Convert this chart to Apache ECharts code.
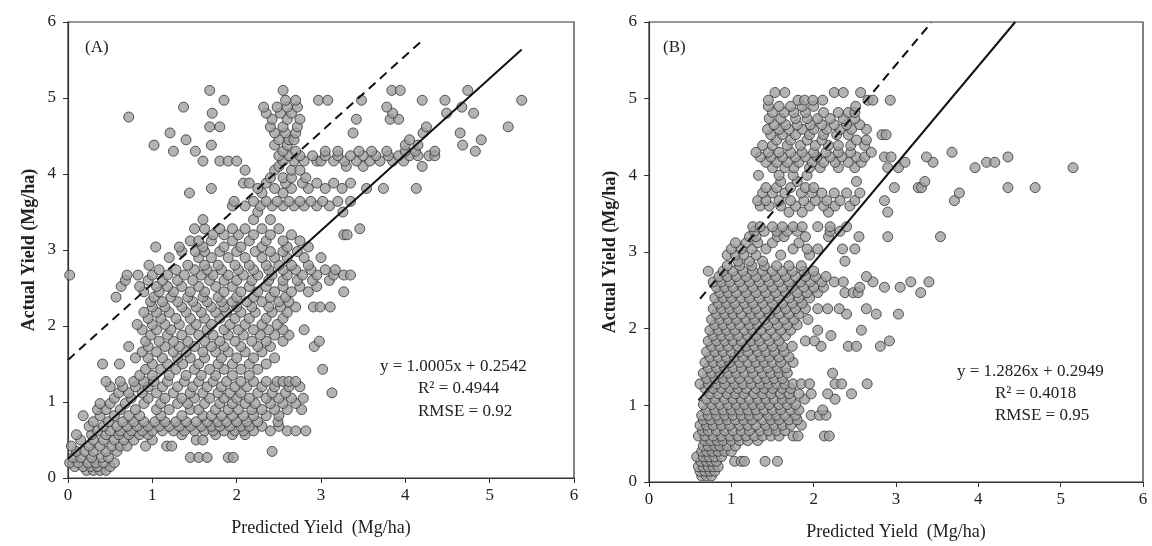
<!DOCTYPE html>
<html>
<head>
<meta charset="utf-8">
<script src="https://cdn.jsdelivr.net/npm/echarts@6/dist/echarts.min.js"></script>
<style>
html,body{margin:0;padding:0;background:#fff;}
#chart{width:1152px;height:546px;}
</style>
</head>
<body>
<div id="chart"></div>
<script>
// ---------- Panel A: actual-yield levels and predicted values in each level ----------
const actualA = [0.10,0.15,0.20,0.27,0.35,0.42,0.50,0.57,0.62,0.68,0.74,0.82,0.90,0.98,1.05,1.12,1.20,1.27,1.35,1.43,1.50,1.58,1.66,1.73,1.80,1.88,1.95,2.02,2.10,2.18,2.25,2.32,2.38,2.45,2.52,2.60,2.67,2.74,2.80,2.90,2.98,3.04,3.12,3.20,3.28,3.40,3.50,3.58,3.64,3.75,3.81,3.88,3.95,4.05,4.10,4.17,4.24,4.30,4.38,4.45,4.54,4.62,4.72,4.75,4.80,4.88,4.97,5.10];
const predictedA = [
 [0.22,0.30,0.38,0.45],
 [0.08,0.18,0.27,0.35,0.50],
 [0.02,0.12,0.24,0.33,0.42,0.55],
 [0.06,0.15,0.28,0.40,0.48,1.45,1.55,1.65,1.90,1.96],
 [0.10,0.20,0.30,0.45,0.58,2.42],
 [0.04,0.25,0.38,0.52,0.62,0.70,0.92,1.17,1.23],
 [0.15,0.30,0.42,0.55,0.66,0.78,1.00,1.52,1.60],
 [0.10,0.28,0.45,0.60,0.72,0.85,0.95,1.35,1.75,1.95,2.10],
 [0.35,0.50,0.62,0.75,0.88,1.00,1.12,1.25,1.38,1.50,1.62,1.72,1.85,1.98,2.08,2.20,2.40,2.60,2.70,2.82],
 [0.25,0.42,0.58,0.70,0.82,0.95,1.08,1.20,1.32,1.45,1.58,1.70,1.80,1.92,2.05,2.15,2.30,2.50],
 [0.30,0.48,0.65,0.78,0.90,1.03,1.15,1.28,1.40,1.52,1.65,1.78,1.88,2.00,2.12,2.25,2.49],
 [0.18,0.38,0.55,0.72,0.85,1.10,1.35,1.60,1.70,1.82,1.95,2.08,2.20,2.35,2.50],
 [0.35,0.45,0.62,0.80,1.05,1.20,1.45,1.55,1.75,1.90,2.02,2.18,2.30,2.45,2.60,2.77],
 [0.38,0.50,0.68,0.90,1.10,1.30,1.42,1.62,1.80,1.95,2.10,2.22,2.40,2.55,2.70],
 [0.55,0.75,0.95,1.15,1.35,1.50,1.68,1.85,2.00,2.15,2.35,2.50,2.65,2.79],
 [0.60,0.72,0.88,1.05,1.25,1.45,1.60,1.78,1.92,2.05,2.25,2.42,2.58,3.13],
 [0.50,0.65,0.80,0.95,1.12,1.30,1.48,1.65,1.82,1.98,2.12,2.30,2.45,2.62,2.75],
 [0.45,0.62,0.78,0.90,1.02,1.18,1.38,1.55,1.72,1.88,2.05,2.20,2.35,2.48,2.55,2.62,2.70],
 [0.85,1.00,1.20,1.40,1.58,1.75,1.95,2.15],
 [0.92,1.10,1.28,1.50,1.68,1.85,2.05,2.25,3.02],
 [0.41,0.61,1.00,1.18,1.36,1.55,1.78,1.95,2.15,2.35],
 [0.80,0.95,1.12,1.30,1.45,1.62,1.82,2.00,2.20,2.45],
 [0.88,1.05,1.25,1.40,1.60,1.75,1.90,2.10,2.30],
 [0.72,0.95,1.15,1.32,1.50,1.70,1.85,2.05,2.25,2.40,2.92],
 [0.92,1.08,1.25,1.42,1.62,1.80,1.98,2.18,2.35,2.55,2.98],
 [0.98,1.18,1.35,1.55,1.72,1.90,2.08,2.28,2.45,2.62],
 [0.88,1.05,1.22,1.45,1.65,1.85,2.02,2.20,2.38,2.55,2.80],
 [0.82,1.00,1.15,1.32,1.52,1.70,1.92,2.10,2.30,2.48],
 [0.95,1.10,1.28,1.45,1.62,1.80,1.98,2.15,2.35,2.55],
 [0.90,1.05,1.20,1.40,1.58,1.75,1.88,2.05,2.22,2.42,2.60],
 [1.00,1.15,1.35,1.52,1.70,1.85,2.00,2.18,2.38,2.52,2.70,2.91,2.99,3.11],
 [0.98,1.12,1.30,1.48,1.65,1.82,1.95,2.12,2.30,2.50,2.62],
 [0.57,1.02,1.22,1.42,1.60,1.78,2.00,2.20,2.40,2.58],
 [0.90,1.08,1.25,1.45,1.62,1.85,2.05,2.25,2.45,2.65,2.85,3.27],
 [0.63,0.85,1.05,1.18,1.35,1.55,1.75,1.95,2.15,2.35,2.55,2.75,2.95],
 [0.68,0.95,1.12,1.30,1.48,1.68,1.85,2.00,2.18,2.38,2.55,2.72,2.90,3.10],
 [0.02,0.70,0.83,1.00,1.18,1.38,1.58,1.72,1.90,2.08,2.25,2.42,2.60,2.78,2.95,3.15,3.27,3.35],
 [1.08,1.28,1.50,1.65,1.82,2.02,2.20,2.38,2.55,2.70,2.88,3.05,3.17],
 [0.96,1.42,1.62,1.78,1.98,2.15,2.35,2.50,2.65,2.85],
 [1.20,1.55,1.70,1.90,2.10,2.30,2.45,2.60,2.80,3.00],
 [1.35,1.51,1.62,1.80,2.00,2.22,2.40,2.55,2.72],
 [1.04,1.32,1.60,1.85,2.05,2.30,2.60,2.85],
 [1.45,1.55,1.70,1.95,2.15,2.35,2.55,2.75],
 [1.72,1.85,2.02,2.20,2.40,2.65,3.27,3.31],
 [1.50,1.62,1.80,1.95,2.10,2.30,2.50,3.46],
 [1.60,2.20,2.40],
 [2.25,3.26],
 [1.95,2.10,2.28,2.42,2.55,2.68,2.80,2.95,3.10],
 [1.97,2.20,2.35,2.48,2.62,2.75,2.88,3.02,3.20,3.35],
 [1.44,2.30,2.55],
 [1.70,2.25,2.45,2.65,2.85,3.05,3.25,3.54,3.74,4.13],
 [2.08,2.15,2.35,2.58,2.78,2.95,3.15,3.35],
 [2.40,2.55,2.65,2.82],
 [2.10,2.45,2.65,2.75],
 [2.50,3.30,3.50,4.20],
 [1.60,1.80,1.90,2.00,2.55,2.68,2.80,2.95,3.00,3.15,3.28,3.42,3.58,3.70,3.85,3.98],
 [2.50,2.62,2.75,2.90,3.05,3.20,3.35,3.50,3.65,3.80,3.92,4.05,4.15,4.28,4.35],
 [1.25,1.51,2.55,2.70,3.05,3.20,3.45,3.60,3.78,4.00,4.12,4.35,4.83],
 [1.02,1.70,2.45,2.60,4.00,4.15,4.68],
 [1.40,2.50,2.62,2.68,4.05,4.90],
 [1.21,2.45,2.58,2.70,3.38,4.21,4.65],
 [1.68,1.80,2.40,2.55,2.72,4.25,5.22],
 [2.42,2.60,2.75,3.42,3.82,3.92],
 [0.72],
 [1.71,2.35,2.52,2.65,3.85,4.49,4.81],
 [1.37,2.32,2.48,2.60,2.72,3.78,4.67],
 [1.85,2.58,2.70,2.97,3.08,3.48,4.20,4.47,5.38],
 [1.68,2.55,3.84,3.94,4.74]
];

// ---------- Panel B ----------
const actualB = [0.08,0.14,0.20,0.27,0.33,0.40,0.47,0.54,0.60,0.67,0.74,0.81,0.87,0.94,1.01,1.08,1.15,1.22,1.28,1.35,1.42,1.49,1.56,1.63,1.70,1.77,1.84,1.91,1.98,2.05,2.12,2.19,2.26,2.33,2.40,2.47,2.54,2.61,2.68,2.75,2.82,2.88,2.96,3.04,3.12,3.20,3.27,3.33,3.52,3.60,3.67,3.77,3.84,3.92,4.00,4.10,4.17,4.24,4.30,4.39,4.46,4.53,4.60,4.66,4.74,4.82,4.90,4.98,5.08];
const predictedB = [
 [0.64,0.70,0.76],
 [0.62,0.68,0.74,0.80],
 [0.60,0.66,0.72,0.78,0.84],
 [0.63,0.70,0.76,0.82,1.04,1.12,1.16,1.41,1.56],
 [0.58,0.66,0.73,0.80,0.88],
 [0.64,0.70,0.77,0.84,0.92,1.00],
 [0.66,0.72,0.80,0.86,0.95,1.05],
 [0.68,0.75,0.83,0.90,1.00,1.10,1.20,1.32],
 [0.60,0.68,0.78,0.88,0.98,1.08,1.18,1.28,1.38,1.48,1.58,1.75,1.81,2.13,2.19],
 [0.65,0.72,0.82,0.92,1.02,1.12,1.22,1.35,1.45,1.55,1.65],
 [0.62,0.70,0.78,0.88,0.98,1.10,1.20,1.30,1.42,1.52,1.62,1.72,1.85],
 [0.66,0.75,0.85,0.95,1.05,1.15,1.25,1.38,1.48,1.58,1.70,1.80],
 [0.64,0.72,0.82,0.92,1.02,1.12,1.22,1.32,1.45,1.55,1.65,1.78,1.97,2.07,2.15],
 [0.70,0.80,0.90,1.00,1.10,1.20,1.30,1.40,1.50,1.60,1.72,1.82,2.11],
 [0.66,0.76,0.86,0.96,1.06,1.16,1.26,1.36,1.46,1.58,1.68,1.78],
 [0.70,0.80,0.92,1.02,1.12,1.22,1.32,1.42,1.52,1.62,1.72,1.89,2.26],
 [0.74,0.84,0.95,1.05,1.15,1.28,1.38,1.48,1.60,1.70,1.82,1.97,2.17,2.46],
 [0.68,0.78,0.88,0.98,1.08,1.18,1.30,1.40,1.50,1.62,1.72],
 [0.62,0.72,0.82,0.92,1.04,1.14,1.24,1.35,1.45,1.55,1.65,1.75,1.85,1.95,2.26,2.34,2.65],
 [0.70,0.80,0.90,1.00,1.10,1.22,1.32,1.42,1.52,1.62],
 [0.66,0.76,0.86,0.96,1.06,1.16,1.26,1.38,1.48,1.58,1.68,2.23],
 [0.72,0.82,0.92,1.02,1.12,1.24,1.34,1.44,1.56,1.66],
 [0.68,0.78,0.88,0.98,1.10,1.20,1.30,1.40,1.50,1.60,1.75],
 [0.74,0.84,0.94,1.04,1.14,1.26,1.36,1.46,1.58,1.70],
 [0.70,0.80,0.90,1.00,1.10,1.20,1.32,1.42,1.52,1.64],
 [0.76,0.86,0.96,1.08,1.18,1.28,1.38,1.50,1.62,1.74,2.09,2.42,2.52,2.81],
 [0.72,0.82,0.92,1.02,1.12,1.24,1.34,1.46,1.58,1.90,2.01,2.92],
 [0.78,0.88,0.98,1.08,1.20,1.30,1.42,1.54,1.66,2.21],
 [0.74,0.84,0.94,1.04,1.16,1.26,1.36,1.48,1.60,1.72,2.05,2.58],
 [0.80,0.90,1.00,1.10,1.22,1.32,1.44,1.56,1.68,1.80],
 [0.76,0.86,0.96,1.06,1.18,1.28,1.40,1.52,1.64,1.76,1.93],
 [0.82,0.92,1.02,1.12,1.24,1.34,1.46,1.58,1.70,1.82,2.40,2.76,3.03],
 [0.78,0.88,0.98,1.08,1.20,1.30,1.42,1.54,1.66,1.78,1.90,2.05,2.17,2.31,2.64],
 [0.84,0.94,1.04,1.16,1.26,1.38,1.50,1.62,1.74,1.86],
 [0.80,0.90,1.00,1.12,1.22,1.34,1.46,1.58,1.70,1.82,1.95],
 [0.86,0.96,1.06,1.18,1.30,1.42,1.54,1.66,1.80,1.92,2.05,2.38,2.48,2.54,3.30],
 [0.82,0.92,1.02,1.14,1.26,1.38,1.50,1.62,1.74,1.88,2.00,2.12,2.56,2.86,3.05],
 [0.78,0.88,0.98,1.10,1.22,1.34,1.46,1.58,1.70,1.84,1.96,2.10,2.25,2.36,2.72,3.18,3.40],
 [0.85,0.95,1.06,1.18,1.30,1.42,1.54,1.66,1.78,1.90,2.02,2.15,2.64],
 [0.72,0.90,1.02,1.14,1.26,1.38,1.50,1.62,1.74,1.88,2.00],
 [0.95,1.10,1.25,1.40,1.55,1.70,1.85],
 [1.08,1.22,1.38,2.38],
 [0.95,1.05,1.15,1.30,1.60,1.95],
 [1.00,1.12,1.25,1.42,1.75,1.92,2.05,2.35,2.50],
 [1.05,1.18,1.32,1.50,1.82],
 [1.22,1.30,1.56,1.64,1.90,2.18,2.55,2.90,3.54],
 [1.28,1.40,1.55,1.68,1.80,2.20,2.32],
 [1.26,1.35,1.50,1.62,1.75,1.86,2.05,2.20,2.40],
 [1.70,1.86,2.18,2.90],
 [1.35,1.46,1.60,1.78,1.95,2.12,2.26,2.44],
 [1.32,1.42,1.58,1.72,1.88,2.02,2.16,2.32,2.50,2.86,3.71],
 [1.38,1.50,1.65,1.85,1.98,2.10,2.25,2.40,2.56,3.77],
 [1.42,1.55,1.72,1.90,2.00,2.98,3.27,3.31,4.36,4.69],
 [1.60,1.80,2.52,3.35],
 [1.33,1.58,1.75,1.92],
 [1.50,1.65,1.76,1.95,2.08,2.30,2.50,2.90,3.03,3.96,5.15],
 [1.42,1.55,1.68,1.82,1.98,2.12,2.26,2.42,2.58,3.11,3.45,4.10,4.20],
 [1.35,1.48,1.62,1.78,1.90,2.04,2.20,2.34,2.52,2.62,2.86,2.94,3.37,4.36],
 [1.30,1.45,1.58,1.72,1.86,2.00,2.15,2.30,2.45,2.70,3.68],
 [1.38,1.50,1.68,1.84,2.02,2.18,2.30,2.45,2.62],
 [1.55,1.72,1.92,2.10,2.52,2.64],
 [1.48,1.62,1.78,1.95,2.12,2.28,2.42,2.83,2.88],
 [1.44,1.58,1.70,1.86,2.00,2.16,2.32,2.46,2.64],
 [1.52,1.66,1.80,1.96,2.10,2.25,2.40,2.56],
 [1.46,1.60,1.78,1.92,2.05,2.20,2.36,2.50],
 [1.50,1.64,1.76,1.90,2.12,2.30,2.42,2.50],
 [1.45,1.58,1.72,1.86,2.00,2.51],
 [1.45,1.81,1.89,1.99,2.11,2.66,2.72,2.93],
 [1.53,1.65,2.25,2.36,2.57]
];

// regression (solid) and upper bound (dashed) line end points
const fitA = [[0, 0.254], [5.38, 5.637]];
const boundA = [[0, 1.554], [4.2, 5.756]];
const fitB = [[0.6, 1.064], [4.448, 6.0]];
const boundB = [[0.62, 2.39], [3.43, 5.994]];

const axisTicks = [0, 1, 2, 3, 4, 5, 6];
const xTitle = 'Predicted Yield  (Mg/ha)';
const yTitle = 'Actual Yield (Mg/ha)';
const statsA = ['y = 1.0005x + 0.2542', 'R² = 0.4944', 'RMSE = 0.92'];
const statsB = ['y = 1.2826x + 0.2949', 'R² = 0.4018', 'RMSE = 0.95'];

function pairs(levels, lists) {
  const out = [];
  levels.forEach((y, i) => lists[i].forEach(x => out.push([x, y])));
  return out;
}

const FONT = '"Liberation Serif", "Times New Roman", serif';
const INK = '#222';

function xAxisFor(gi) {
  return {
    gridIndex: gi, type: 'value', min: 0, max: 6, interval: 1,
    name: xTitle, nameLocation: 'middle', nameGap: 41,
    nameTextStyle: { fontFamily: FONT, fontSize: 18, color: INK },
    axisLine: { show: true, lineStyle: { color: '#333', width: 1.2 } },
    axisTick: { show: true, inside: false, length: 5, lineStyle: { color: '#333' } },
    axisLabel: { fontFamily: FONT, fontSize: 17, color: INK, margin: 9 },
    splitLine: { show: false }
  };
}
function yAxisFor(gi) {
  return {
    gridIndex: gi, type: 'value', min: 0, max: 6, interval: 1,
    name: yTitle, nameLocation: 'middle', nameGap: 30,
    nameTextStyle: { fontFamily: FONT, fontSize: 18, fontWeight: 'bold', color: INK },
    axisLine: { show: true, lineStyle: { color: '#333', width: 1.2 } },
    axisTick: { show: true, inside: false, length: 5, lineStyle: { color: '#333' } },
    axisLabel: { fontFamily: FONT, fontSize: 17, color: INK, margin: 12 },
    splitLine: { show: false }
  };
}

const pointStyle = { color: '#a0a0a0', borderColor: '#333', borderWidth: 1 };

function scatter(idx, data) {
  return { type: 'scatter', xAxisIndex: idx, yAxisIndex: idx, data: data,
    symbol: 'circle', symbolSize: 10, itemStyle: pointStyle, z: 2, silent: true, animation: false };
}
function line(idx, data, dashed) {
  return { type: 'line', xAxisIndex: idx, yAxisIndex: idx, data: data, showSymbol: false,
    symbol: 'none', z: 5, silent: true, animation: false,
    lineStyle: { color: '#111', width: 2, type: dashed ? [9, 6] : 'solid' } };
}
function txt(left, top, s) {
  return { type: 'text', left: left, top: top, z: 10,
    style: { text: s, fontFamily: FONT, fontSize: 17, fill: INK } };
}

const chart = echarts.init(document.getElementById('chart'), null, { renderer: 'canvas' });
chart.setOption({
  backgroundColor: '#fff',
  animation: false,
  grid: [
    { left: 68, top: 22, width: 506, height: 456, show: true, borderColor: '#333', borderWidth: 1.2, backgroundColor: 'transparent' },
    { left: 649, top: 22, width: 494, height: 460, show: true, borderColor: '#333', borderWidth: 1.2, backgroundColor: 'transparent' }
  ],
  xAxis: [xAxisFor(0), xAxisFor(1)],
  yAxis: [yAxisFor(0), yAxisFor(1)],
  series: [
    scatter(0, pairs(actualA, predictedA)),
    scatter(1, pairs(actualB, predictedB)),
    line(0, fitA, false), line(0, boundA, true),
    line(1, fitB, false), line(1, boundB, true)
  ],
  graphic: [
    txt(85, 39, '(A)'), txt(663, 39, '(B)'),
    txt(380, 358, statsA[0]), txt(418, 380, statsA[1]), txt(418, 403, statsA[2]),
    txt(957, 363, statsB[0]), txt(995, 385, statsB[1]), txt(995, 407, statsB[2])
  ]
});
</script>
</body>
</html>
